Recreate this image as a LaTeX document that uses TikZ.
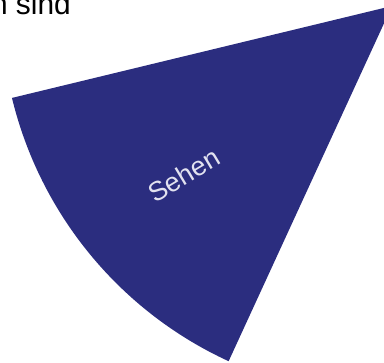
\documentclass[tikz,border=0pt]{standalone}
\usepackage{fontspec}
\setmainfont{Liberation Sans}
\usepackage{xcolor}
\usepackage{tikz}
\usetikzlibrary{positioning,calc}

\definecolor{sliceblue}{RGB}{43,45,127}
\definecolor{slicetext}{RGB}{226,226,240}

\begin{document}
\begin{tikzpicture}[
  x=1bp, y=1bp,
  every node/.style={align=center, inner sep=0pt},
  slice/.style={fill=sliceblue, draw=none},
]

\useasboundingbox (0,0) rectangle (384,363);
\clip (0,0) rectangle (384,363);

%% centre of the pie (just outside the top right corner)
\coordinate (centre) at (392,357);

%% the slice
\fill[slice] (centre) -- ++(193.6:391) arc[start angle=193.6, end angle=245.3, radius=391] -- cycle;

\node[rotate=31, text=slicetext, font=\fontsize{27}{32}\selectfont] (sehen) at (184,188) {Sehen};

%% label of the neighbouring slice, cut by the border
\node[anchor=base east, font=\fontsize{30}{35}\selectfont] (sind) at (71,349) {n sind};

\end{tikzpicture}
\end{document}
